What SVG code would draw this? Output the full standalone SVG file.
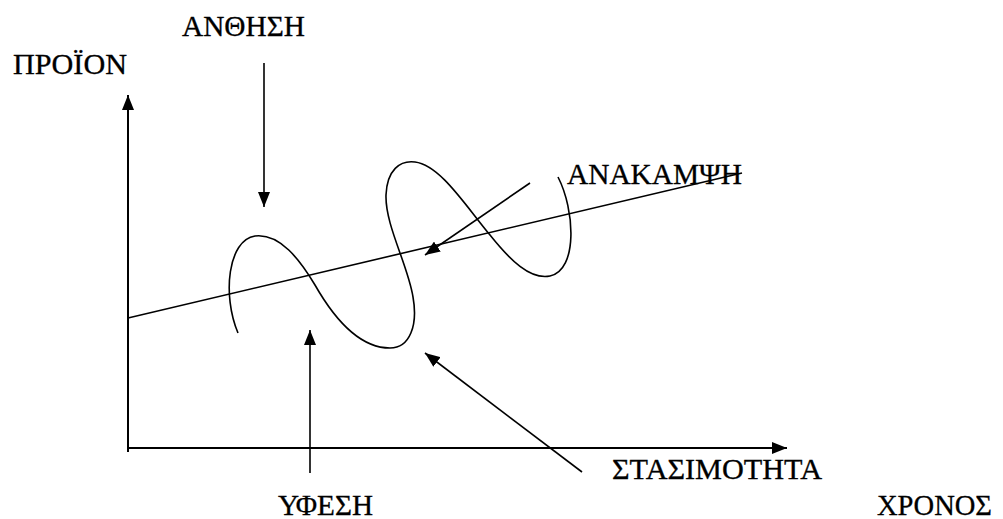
<svg xmlns="http://www.w3.org/2000/svg" width="1003" height="519" viewBox="0 0 1003 519">
<style>
.ln{stroke:#000;stroke-width:1.6;fill:none}
.ax{stroke:#000;stroke-width:2;fill:none}
.ar{marker-end:url(#ah)}
text{font-family:"Liberation Serif","Times New Roman",serif;font-size:30px;fill:#000;stroke:#000;stroke-width:0.3}
</style>
<defs>
<marker id="ah" viewBox="0 0 10 10" refX="10" refY="5" markerWidth="15" markerHeight="12" markerUnits="userSpaceOnUse" orient="auto" preserveAspectRatio="none">
<path d="M0,0 L10,5 L0,10 z" fill="#000"/>
</marker>
</defs>
<rect width="1003" height="519" fill="#fff"/>
<g id="connectors">
<line class="ax ar" x1="128" y1="452" x2="128" y2="95"/>
<line class="ax ar" x1="127" y1="448" x2="787" y2="448"/>
<line class="ln" x1="128" y1="318" x2="742" y2="173"/>
<path class="ln" d="M238,333 C222,295 228,240 255,236 C280,233 300,260 315,285 C335,320 360,348 390,348 C410,348 418,325 413,297 C408,265 385,225 386,195 C387,170 400,160 415,162 C440,165 465,205 490,235 C510,260 530,280 550,276 C578,270 575,210 558,177"/>
<line class="ln ar" x1="264" y1="63" x2="264" y2="207"/>
<line class="ln ar" x1="530" y1="183" x2="425" y2="255"/>
<line class="ln ar" x1="310" y1="473" x2="310" y2="330"/>
<line class="ln ar" x1="582" y1="472" x2="425" y2="353"/>
</g>
<g id="label-proion"><text x="13" y="74" textLength="114" lengthAdjust="spacingAndGlyphs">ΠΡΟΪΟΝ</text></g>
<g id="label-anthisi"><text x="182" y="36" textLength="123" lengthAdjust="spacingAndGlyphs">ΑΝΘΗΣΗ</text></g>
<g id="label-anakampsi"><text x="567" y="184" textLength="175" lengthAdjust="spacingAndGlyphs">ΑΝΑΚΑΜΨΗ</text></g>
<g id="label-yfesi"><text x="278" y="515" textLength="95" lengthAdjust="spacingAndGlyphs">ΥΦΕΣΗ</text></g>
<g id="label-stasimotita"><text x="612" y="479" textLength="210" lengthAdjust="spacingAndGlyphs">ΣΤΑΣΙΜΟΤΗΤΑ</text></g>
<g id="label-xronos"><text x="877" y="515" textLength="115" lengthAdjust="spacingAndGlyphs">ΧΡΟΝΟΣ</text></g>
</svg>
